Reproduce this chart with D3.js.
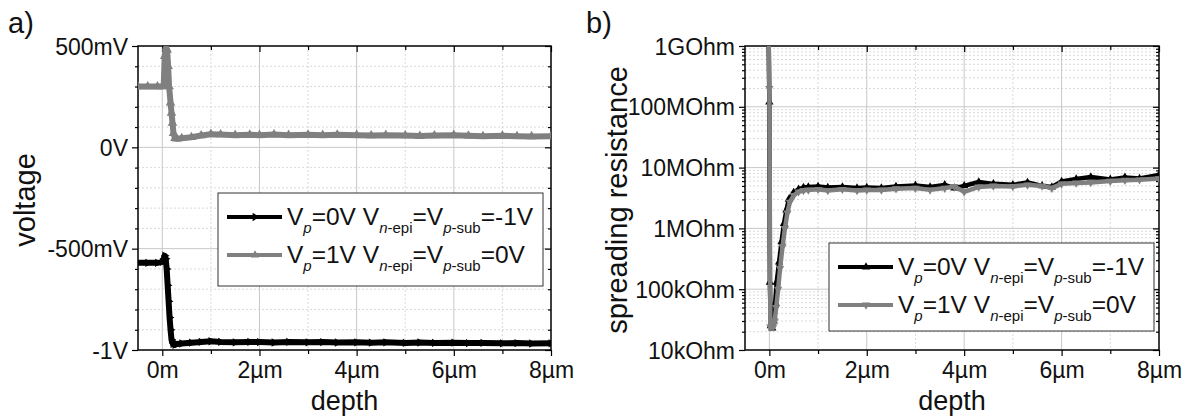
<!DOCTYPE html>
<html>
<head>
<meta charset="utf-8">
<script src="https://cdn.jsdelivr.net/npm/d3@7"></script>
<style>
  body { margin: 0; background: #fff; }
  svg text { font-family: "Liberation Sans", Arial, sans-serif; fill: #111; }
</style>
</head>
<body>
<svg id="chart" width="1189" height="418"></svg>
<script>
// ---- data: panel a) voltage vs depth ----
const depthA0 = [-0.5, -0.3, -0.1, 0.0, 0.03, 0.05, 0.07, 0.09, 0.11, 0.13, 0.15, 0.17, 0.19, 0.22, 0.26, 0.3, 0.4, 0.6, 0.8, 1.0, 1.2, 1.5, 1.8, 2.0, 2.3, 2.6, 3.0, 3.3, 3.6, 4.0, 4.3, 4.6, 5.0, 5.3, 5.6, 6.0, 6.3, 6.6, 7.0, 7.3, 7.6, 8.0];
const voltA0  = [-0.57, -0.57, -0.57, -0.565, -0.55, -0.535, -0.55, -0.60, -0.68, -0.76, -0.84, -0.90, -0.95, -0.97, -0.975, -0.97, -0.968, -0.964, -0.96, -0.957, -0.96, -0.962, -0.96, -0.961, -0.963, -0.96, -0.962, -0.961, -0.963, -0.962, -0.964, -0.962, -0.965, -0.963, -0.965, -0.964, -0.966, -0.965, -0.967, -0.966, -0.968, -0.967];
const depthA1 = [-0.5, -0.3, -0.1, 0.0, 0.03, 0.05, 0.08, 0.10, 0.12, 0.14, 0.17, 0.19, 0.21, 0.23, 0.26, 0.3, 0.4, 0.6, 0.8, 1.0, 1.2, 1.5, 1.8, 2.0, 2.3, 2.6, 3.0, 3.3, 3.6, 4.0, 4.3, 4.6, 5.0, 5.3, 5.6, 6.0, 6.3, 6.6, 7.0, 7.3, 7.6, 8.0];
const voltA1  = [0.30, 0.30, 0.30, 0.30, 0.31, 0.45, 0.49, 0.48, 0.40, 0.30, 0.22, 0.17, 0.12, 0.07, 0.045, 0.042, 0.045, 0.05, 0.058, 0.065, 0.063, 0.06, 0.062, 0.06, 0.063, 0.06, 0.062, 0.06, 0.062, 0.06, 0.058, 0.06, 0.058, 0.056, 0.058, 0.06, 0.057, 0.055, 0.057, 0.055, 0.054, 0.055];

// ---- data: panel b) spreading resistance vs depth ----
const depthB0 = [-0.02, 0.0, 0.01, 0.03, 0.06, 0.09, 0.12, 0.15, 0.2, 0.25, 0.3, 0.35, 0.4, 0.5, 0.6, 0.7, 0.8, 1.0, 1.2, 1.5, 1.8, 2.0, 2.3, 2.6, 3.0, 3.3, 3.6, 3.8, 4.0, 4.3, 4.6, 5.0, 5.3, 5.6, 5.8, 6.0, 6.3, 6.6, 7.0, 7.3, 7.6, 8.0];
const resB0   = [3e9, 1.2e8, 1.3e5, 2.5e4, 2.3e4, 3e4, 6e4, 1.3e5, 2.8e5, 6e5, 1.2e6, 2e6, 3e6, 3.9e6, 4.4e6, 4.7e6, 4.8e6, 4.9e6, 4.7e6, 4.8e6, 4.6e6, 4.7e6, 4.6e6, 4.9e6, 5.1e6, 4.8e6, 5.2e6, 4.6e6, 5.0e6, 5.8e6, 5.4e6, 5.2e6, 5.7e6, 5.0e6, 4.8e6, 5.9e6, 6.5e6, 7.0e6, 6.4e6, 6.9e6, 6.6e6, 7.6e6];
const depthB1 = [-0.02, 0.0, 0.02, 0.05, 0.08, 0.11, 0.14, 0.18, 0.22, 0.27, 0.32, 0.37, 0.42, 0.5, 0.6, 0.7, 0.8, 1.0, 1.2, 1.5, 1.8, 2.0, 2.3, 2.6, 3.0, 3.3, 3.6, 3.8, 4.0, 4.3, 4.6, 5.0, 5.3, 5.6, 5.8, 6.0, 6.3, 6.6, 7.0, 7.3, 7.6, 8.0];
const resB1   = [3e9, 2e8, 2.4e4, 2.5e4, 2.4e4, 3e4, 5e4, 1e5, 2.2e5, 5e5, 1e6, 1.8e6, 2.7e6, 3.5e6, 4e6, 4.2e6, 4.3e6, 4.4e6, 4.2e6, 4.4e6, 4.2e6, 4.3e6, 4.3e6, 4.5e6, 4.6e6, 4.3e6, 4.6e6, 4.9e6, 4.0e6, 4.8e6, 5.0e6, 4.9e6, 5.2e6, 5.0e6, 4.6e6, 5.4e6, 5.6e6, 5.7e6, 6.0e6, 6.2e6, 6.3e6, 6.6e6];

const xTicks = [0, 2, 4, 6, 8];
const xTickLabels = ["0m", "2µm", "4µm", "6µm", "8µm"];
const vTicks = [-1, -0.5, 0, 0.5];
const vTickLabels = ["-1V", "-500mV", "0V", "500mV"];
const rTicks = [1e4, 1e5, 1e6, 1e7, 1e8, 1e9];
const rTickLabels = ["10kOhm", "100kOhm", "1MOhm", "10MOhm", "100MOhm", "1GOhm"];

const BLACK = "#000";
const GRAY = "#808080";

const svg = d3.select("#chart");
const plotTop = 46, plotBottom = 350;

function panel(id, left, right, yScaleFn, yTicks, yLabels, yMinor, yTitle, titleX, letter, letterX) {
  const x = d3.scaleLinear().domain([-0.5, 8]).range([left, right]);
  const y = yScaleFn;
  const g = svg.append("g");

  g.append("clipPath").attr("id", "clip" + id)
    .append("rect").attr("x", left).attr("y", plotTop).attr("width", right - left).attr("height", plotBottom - plotTop);

  // minor grid
  g.selectAll(".mgx").data([1, 3, 5, 7]).enter().append("line")
    .attr("x1", d => x(d)).attr("x2", d => x(d)).attr("y1", plotTop).attr("y2", plotBottom)
    .attr("stroke", "#d9d9d9").attr("stroke-dasharray", "2,2");
  g.selectAll(".mgy").data(yMinor).enter().append("line")
    .attr("x1", left).attr("x2", right).attr("y1", d => y(d)).attr("y2", d => y(d))
    .attr("stroke", "#d9d9d9").attr("stroke-dasharray", "2,2");
  // major grid
  g.selectAll(".gx").data([0, 2, 4, 6]).enter().append("line")
    .attr("x1", d => x(d)).attr("x2", d => x(d)).attr("y1", plotTop).attr("y2", plotBottom)
    .attr("stroke", "#c8c8c8");
  g.selectAll(".gy").data(yTicks.slice(1, -1)).enter().append("line")
    .attr("x1", left).attr("x2", right).attr("y1", d => y(d)).attr("y2", d => y(d))
    .attr("stroke", "#c8c8c8");

  // axes
  const ax = d3.axisBottom(x).tickValues(xTicks).tickFormat((d, i) => xTickLabels[i]).tickSize(6).tickPadding(6);
  g.append("g").attr("transform", `translate(0,${plotBottom})`).call(ax);
  g.append("g").attr("transform", `translate(0,${plotBottom})`)
    .call(d3.axisBottom(x).tickValues([1, 3, 5, 7]).tickSize(4).tickFormat(""));
  g.append("g").attr("transform", `translate(0,${plotTop})`)
    .call(d3.axisBottom(x).tickValues(xTicks).tickSize(6).tickFormat(""));
  g.append("g").attr("transform", `translate(0,${plotTop})`)
    .call(d3.axisBottom(x).tickValues([1, 3, 5, 7]).tickSize(4).tickFormat(""));

  const ay = d3.axisLeft(y).tickValues(yTicks).tickFormat((d, i) => yLabels[i]).tickSize(6).tickPadding(4);
  const axL = g.append("g").attr("transform", `translate(${left},0)`).call(ay);
  g.append("g").attr("transform", `translate(${left},0)`)
    .call(d3.axisLeft(y).tickValues(yMinor).tickSize(3).tickFormat(""));
  g.append("g").attr("transform", `translate(${right},0)`)
    .call(d3.axisLeft(y).tickValues(yTicks).tickSize(6).tickFormat(""));
  g.append("g").attr("transform", `translate(${right},0)`)
    .call(d3.axisLeft(y).tickValues(yMinor).tickSize(3).tickFormat(""));

  g.selectAll(".domain").remove();
  g.selectAll(".tick line").attr("stroke", "#000").attr("stroke-width", 1.2);
  g.selectAll(".tick text").attr("font-size", 23).attr("fill", "#111")
    .style("font-family", '"Liberation Sans", Arial, sans-serif');
  axL.selectAll(".tick text").attr("dy", "0.35em");

  g.append("rect").attr("x", left).attr("y", plotTop).attr("width", right - left).attr("height", plotBottom - plotTop)
    .attr("fill", "none").attr("stroke", "#000").attr("stroke-width", 1.5);

  g.append("text").attr("x", (left + right) / 2).attr("y", 410).attr("text-anchor", "middle")
    .attr("font-size", 27).text("depth");
  g.append("text").attr("transform", `translate(${titleX},${(plotTop + plotBottom) / 2 + 2}) rotate(-90)`)
    .attr("text-anchor", "middle").attr("font-size", 29).text(yTitle);
  g.append("text").attr("x", letterX).attr("y", 33).attr("font-size", 29).text(letter);

  return { x, y, g };
}

const yA = d3.scaleLinear().domain([-1, 0.5]).range([plotBottom, plotTop]);
const pA = panel("a", 138, 551, yA, vTicks, vTickLabels,
  [-0.9, -0.8, -0.7, -0.6, -0.4, -0.3, -0.2, -0.1, 0.1, 0.2, 0.3, 0.4], "voltage", 35, "a)", 8);

const yB = d3.scaleLog().domain([1e4, 1e9]).range([plotBottom, plotTop]);
const minorLog = [];
[1e4, 1e5, 1e6, 1e7, 1e8].forEach(dec => { for (let k = 2; k <= 9; k++) minorLog.push(dec * k); });
const pB = panel("b", 745, 1159, yB, rTicks, rTickLabels, minorLog, "spreading resistance", 627, "b)", 586);

function series(p, id, xs, ys, color, width, shape, rot, size) {
  const pts = xs.map((d, i) => [p.x(d), p.y(ys[i])]);
  const cg = p.g.append("g").attr("clip-path", `url(#clip${id})`);
  cg.append("path").datum(pts)
    .attr("d", d3.line())
    .attr("fill", "none").attr("stroke", color).attr("stroke-width", width)
    .attr("stroke-linejoin", "round");
  cg.selectAll(null).data(pts).enter().append("path")
    .attr("d", d3.symbol().type(shape).size(size))
    .attr("transform", d => `translate(${d[0]},${d[1]}) rotate(${rot})`)
    .attr("fill", color);
}

series(pA, "a", depthA0, voltA0, BLACK, 6, d3.symbolTriangle, 90, 30);
series(pA, "a", depthA1, voltA1, GRAY, 6, d3.symbolTriangle, 0, 40);
series(pB, "b", depthB0, resB0, BLACK, 4.5, d3.symbolTriangle, 0, 30);
series(pB, "b", depthB1, resB1, GRAY, 4.5, d3.symbolTriangle, 180, 30);

// legends
function legend(bx, by, bw, bh, rows) {
  const lg = svg.append("g");
  lg.append("rect").attr("x", bx).attr("y", by).attr("width", bw).attr("height", bh)
    .attr("fill", "#fff").attr("stroke", "#333").attr("stroke-width", 1);
  rows.forEach((r, i) => {
    const cy = by + 24 + i * 38;
    lg.append("line").attr("x1", bx + 9).attr("x2", bx + 64).attr("y1", cy).attr("y2", cy)
      .attr("stroke", r.color).attr("stroke-width", 4);
    lg.append("path").attr("d", d3.symbol().type(d3.symbolTriangle).size(30))
      .attr("transform", `translate(${bx + 37},${cy}) rotate(${r.rot})`).attr("fill", r.color);
    const t = lg.append("text").attr("x", bx + 69).attr("y", cy + 8).attr("font-size", 24.5);
    const sub = (s, it) => {
      const ts = t.append("tspan").attr("font-size", 15).attr("dy", 8);
      if (it) { ts.append("tspan").attr("font-style", "italic").text(it); }
      ts.append("tspan").text(s);
    };
    t.append("tspan").text("V");
    sub("", "p");
    t.append("tspan").attr("dy", -8).text(`=${r.vp} V`);
    sub("-epi", "n");
    t.append("tspan").attr("dy", -8).text("=V");
    sub("-sub", "p");
    t.append("tspan").attr("dy", -8).text(`=${r.vs}`);
  });
}
legend(218, 193, 325, 93, [
  { color: BLACK, rot: 90, vp: "0V", vs: "-1V" },
  { color: GRAY, rot: 0, vp: "1V", vs: "0V" }
]);
legend(829, 243, 325, 88, [
  { color: BLACK, rot: 0, vp: "0V", vs: "-1V" },
  { color: GRAY, rot: 180, vp: "1V", vs: "0V" }
]);
</script>
</body>
</html>
